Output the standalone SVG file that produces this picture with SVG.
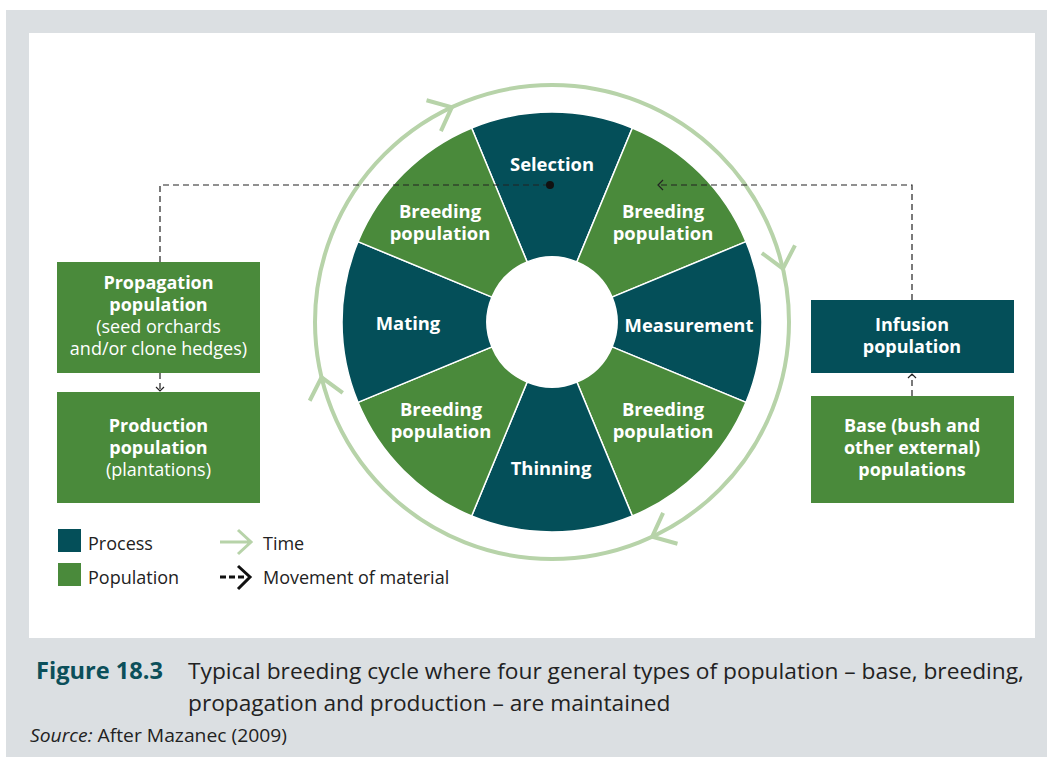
<svg xmlns="http://www.w3.org/2000/svg" width="1055" height="757" viewBox="0 0 1055 757">
<style>
.proc{fill:#044f59;stroke:#ffffff;stroke-width:1.5}
.pop{fill:#4a8a3b;stroke:#ffffff;stroke-width:1.5}
.boxp{fill:#044f59}
.boxg{fill:#4a8a3b}
.lb{font-family:"Open Sans","Liberation Sans",sans-serif;font-weight:bold;font-size:18px;fill:#ffffff;text-anchor:middle}
.wl{font-size:18.4px}
.lr{font-family:"Open Sans","Liberation Sans",sans-serif;font-size:18px;fill:#ffffff;text-anchor:middle}
.leg{font-family:"Open Sans","Liberation Sans",sans-serif;font-size:18px;fill:#222222}
.cap{font-family:"Open Sans","Liberation Sans",sans-serif;font-size:22.7px;fill:#222222}
.ring{fill:none;stroke:#b7d3a9;stroke-width:4}
.dash{fill:none;stroke:#222222;stroke-width:1.2;stroke-dasharray:6 4}
.head{fill:none;stroke:#222222;stroke-width:1.2}
</style>
<rect x="6" y="10" width="1041" height="747" fill="#dbdfe2"/>
<rect x="29" y="33" width="1006" height="605" fill="#ffffff"/>

<g id="time-ring">
<circle class="ring" cx="552" cy="322" r="237"/>
<path class="ring" d="M532 68 L552 85 L532 102" transform="rotate(335 552 322)"/>
<path class="ring" d="M532 68 L552 85 L532 102" transform="rotate(77 552 322)"/>
<path class="ring" d="M532 68 L552 85 L532 102" transform="rotate(155 552 322)"/>
<path class="ring" d="M532 68 L552 85 L532 102" transform="rotate(256.5 552 322)"/>
</g>

<g id="selection">
<path class="proc" d="M471.64 127.99 A210 210 0 0 1 632.36 127.99 L576.87 261.95 A65 65 0 0 0 527.13 261.95 Z"/>
<text class="lb wl" x="552" y="171">Selection</text>
</g>
<g id="breeding-tr">
<path class="pop" d="M632.36 127.99 A210 210 0 0 1 746.01 241.64 L612.05 297.13 A65 65 0 0 0 576.87 261.95 Z"/>
<text class="lb wl" x="663" y="218">Breeding</text>
<text class="lb wl" x="663" y="240">population</text>
</g>
<g id="measurement">
<path class="proc" d="M746.01 241.64 A210 210 0 0 1 746.01 402.36 L612.05 346.87 A65 65 0 0 0 612.05 297.13 Z"/>
<text class="lb wl" x="689" y="332">Measurement</text>
</g>
<g id="breeding-br">
<path class="pop" d="M746.01 402.36 A210 210 0 0 1 632.36 516.01 L576.87 382.05 A65 65 0 0 0 612.05 346.87 Z"/>
<text class="lb wl" x="663" y="416">Breeding</text>
<text class="lb wl" x="663" y="438">population</text>
</g>
<g id="thinning">
<path class="proc" d="M632.36 516.01 A210 210 0 0 1 471.64 516.01 L527.13 382.05 A65 65 0 0 0 576.87 382.05 Z"/>
<text class="lb wl" x="551" y="475">Thinning</text>
</g>
<g id="breeding-bl">
<path class="pop" d="M471.64 516.01 A210 210 0 0 1 357.99 402.36 L491.95 346.87 A65 65 0 0 0 527.13 382.05 Z"/>
<text class="lb wl" x="441" y="416">Breeding</text>
<text class="lb wl" x="441" y="438">population</text>
</g>
<g id="mating">
<path class="proc" d="M357.99 402.36 A210 210 0 0 1 357.99 241.64 L491.95 297.13 A65 65 0 0 0 491.95 346.87 Z"/>
<text class="lb wl" x="408" y="330">Mating</text>
</g>
<g id="breeding-tl">
<path class="pop" d="M357.99 241.64 A210 210 0 0 1 471.64 127.99 L527.13 261.95 A65 65 0 0 0 491.95 297.13 Z"/>
<text class="lb wl" x="440" y="218">Breeding</text>
<text class="lb wl" x="440" y="240">population</text>
</g>

<g id="propagation">
<rect class="boxg" x="57" y="262" width="203" height="111"/>
<text class="lb" x="158.5" y="289">Propagation</text>
<text class="lb" x="158.5" y="311">population</text>
<text class="lr" x="158.5" y="333">(seed orchards</text>
<text class="lr" x="158.5" y="355">and/or clone hedges)</text>
</g>
<g id="production">
<rect class="boxg" x="57" y="392" width="203" height="111"/>
<text class="lb" x="158.5" y="432">Production</text>
<text class="lb" x="158.5" y="454">population</text>
<text class="lr" x="158.5" y="476">(plantations)</text>
</g>
<g id="infusion">
<rect class="boxp" x="811" y="300" width="203" height="73"/>
<text class="lb" x="912" y="331">Infusion</text>
<text class="lb" x="912" y="353">population</text>
</g>
<g id="base">
<rect class="boxg" x="811" y="396" width="203" height="107"/>
<text class="lb" x="912" y="432">Base (bush and</text>
<text class="lb" x="912" y="454">other external)</text>
<text class="lb" x="912" y="476">populations</text>
</g>

<g id="connectors">
<path class="dash" d="M160 262 L160 185 L550 185"/>
<circle cx="550" cy="185" r="4" fill="#111111"/>
<path class="dash" d="M912 300 L912 185 L658 185"/>
<path class="head" d="M663 180 L658 185 L663 190"/>
<path class="dash" d="M160 373 L160 391"/>
<path class="head" d="M156 387 L160 391 L164 387"/>
<path class="dash" d="M912 396 L912 374"/>
<path class="head" d="M908 378 L912 374 L916 378"/>
</g>

<g id="legend">
<rect class="boxp" x="58" y="529" width="23" height="23"/>
<text class="leg" x="88" y="550">Process</text>
<rect class="boxg" x="58" y="563" width="23" height="23"/>
<text class="leg" x="88" y="584">Population</text>
<path fill="none" stroke="#b7d3a9" stroke-width="3" d="M220 542 L250 542 M238 530 L251 542 L238 554"/>
<text class="leg" x="263" y="550">Time</text>
<path fill="none" stroke="#111111" stroke-width="3" stroke-dasharray="6 3" d="M220 577 L246 577"/>
<path fill="none" stroke="#111111" stroke-width="3" d="M238 566 L250 577 L238 589"/>
<text class="leg" x="263" y="584">Movement of material</text>
</g>

<g id="caption">
<text class="cap" x="36" y="679" font-weight="bold" style="fill:#0b4f5a" textLength="127" lengthAdjust="spacingAndGlyphs">Figure 18.3</text>
<text class="cap" x="188" y="679" textLength="836" lengthAdjust="spacingAndGlyphs">Typical breeding cycle where four general types of population – base, breeding,</text>
<text class="cap" x="188" y="711">propagation and production – are maintained</text>
<text class="leg" x="30" y="742" style="font-size:17.5px" textLength="257" lengthAdjust="spacingAndGlyphs"><tspan font-style="italic">Source:</tspan> After Mazanec (2009)</text>
</g>
</svg>
